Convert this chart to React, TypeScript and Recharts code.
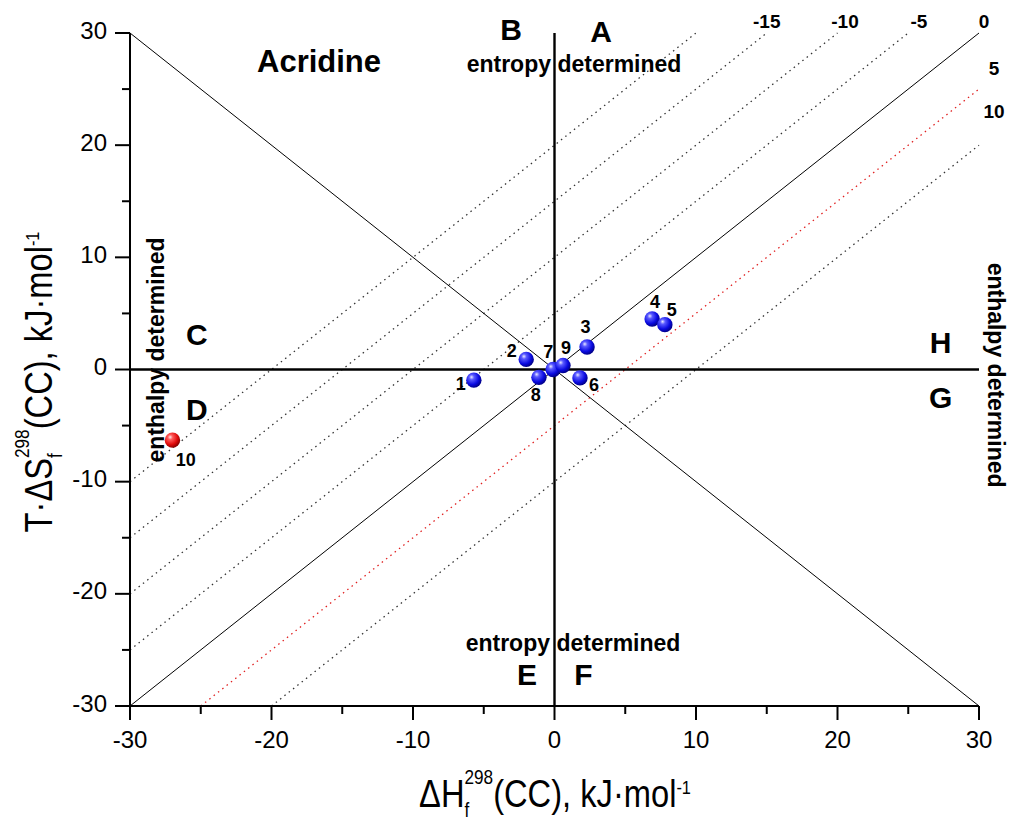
import React from 'react';
import { ScatterChart, Scatter, XAxis, YAxis, ReferenceLine, ReferenceDot } from 'recharts';

// measured compounds: ΔH (x) and T·ΔS (y), kJ/mol
const compoundIds = ['1', '2', '3', '4', '5', '6', '7', '8', '9', '10'];
const deltaH = [-5.7, -2.0, 2.3, 6.9, 7.8, 1.8, -0.1, -1.1, 0.6, -27.0];
const tDeltaS = [-0.95, 0.9, 2.0, 4.5, 4.0, -0.75, 0.0, -0.7, 0.35, -6.3];
const outlierIds = ['10'];

// iso-Gibbs guide lines y = x + c
const dottedOffsets = [20, 15, 10, 5, -10];
const redOffsets = [-5];
const solidOffsets = [0];

const axisTicks = [-30, -25, -20, -15, -10, -5, 0, 5, 10, 15, 20, 25, 30];

const FONT = '"Liberation Sans", Arial, sans-serif';

// text annotations (x, y in data units, baseline)
const annotations = [
    { text: 'Acridine', x: -16.64, y: 26.55, kind: 'title' },
    { text: 'B', x: -3.07, y: 29.38, kind: 'letter' },
    { text: 'A', x: 3.29, y: 29.2, kind: 'letter' },
    { text: 'entropy determined', x: 1.38, y: 26.52, kind: 'note' },
    { text: 'entropy determined', x: 1.31, y: -25.1, kind: 'note' },
    { text: 'E', x: -1.94, y: -28.13, kind: 'letter' },
    { text: 'F', x: 2.05, y: -28.13, kind: 'letter' },
    { text: 'C', x: -25.27, y: 2.19, kind: 'letter' },
    { text: 'D', x: -25.27, y: -4.5, kind: 'letter' },
    { text: 'H', x: 27.29, y: 1.47, kind: 'letter' },
    { text: 'G', x: 27.3, y: -3.43, kind: 'letter' },
    { text: 'enthalpy determined', x: -28.16, y: 1.74, kind: 'noteUp' },
    { text: 'enthalpy determined', x: 31.2, y: -0.5, kind: 'noteDown' },
    { text: '-15', x: 15.0, y: 30.42, kind: 'iso' },
    { text: '-10', x: 20.53, y: 30.42, kind: 'iso' },
    { text: '-5', x: 25.76, y: 30.42, kind: 'iso' },
    { text: '0', x: 30.35, y: 30.42, kind: 'iso' },
    { text: '5', x: 31.06, y: 26.26, kind: 'iso' },
    { text: '10', x: 31.06, y: 22.39, kind: 'iso' },
    { text: '1', x: -6.63, y: -1.81, kind: 'point' },
    { text: '2', x: -3.02, y: 1.1, kind: 'point' },
    { text: '3', x: 2.2, y: 3.24, kind: 'point' },
    { text: '4', x: 7.1, y: 5.47, kind: 'point' },
    { text: '5', x: 8.28, y: 4.79, kind: 'point' },
    { text: '6', x: 2.79, y: -1.96, kind: 'point' },
    { text: '7', x: -0.44, y: 1.01, kind: 'point' },
    { text: '8', x: -1.33, y: -2.85, kind: 'point' },
    { text: '9', x: 0.81, y: 1.37, kind: 'point' },
    { text: '10', x: -26.06, y: -8.58, kind: 'point' },
];

const annStyle: Record<string, any> = {
    title: { fontSize: 31 },
    letter: { fontSize: 30 },
    note: { fontSize: 23 },
    noteUp: { fontSize: 23, rotate: -90 },
    noteDown: { fontSize: 23, rotate: 90 },
    iso: { fontSize: 19 },
    point: { fontSize: 18 },
};

const points = compoundIds.map((id, i) => ({ id, x: deltaH[i], y: tDeltaS[i] }));
const bluePoints = points.filter(p => !outlierIds.includes(p.id));
const redPoints = points.filter(p => outlierIds.includes(p.id));

// clip y = x + c to the [-30, 30] box
const segmentFor = (c: number) => [
    { x: Math.max(-30, -30 - c), y: Math.max(-30, -30 - c) + c },
    { x: Math.min(30, 30 - c), y: Math.min(30, 30 - c) + c },
];

const XTick = ({ x, y, payload }: any) => {
    const major = payload.value % 10 === 0;
    return (
        <g>
            <line x1={x} x2={x} y1={y} y2={y + (major ? 14 : 8)} stroke="#000" strokeWidth={2} />
            {major && (
                <text x={x} y={y + 42} textAnchor="middle" fontSize={24} fontFamily={FONT} fill="#000">{payload.value}</text>
            )}
        </g>
    );
};

const YTick = ({ x, y, payload }: any) => {
    const major = payload.value % 10 === 0;
    return (
        <g>
            <line x1={x} x2={x - (major ? 15 : 8)} y1={y} y2={y} stroke="#000" strokeWidth={2} />
            {major && (
                <text x={x - 23} y={y + 5.5} textAnchor="end" fontSize={24} fontFamily={FONT} fill="#000">{payload.value}</text>
            )}
        </g>
    );
};

const AxisTitle = ({ cx, cy, rotate, main }: { cx: number; cy: number; rotate: number; main: string }) => (
    <text
        transform={`translate(${cx},${cy}) rotate(${rotate}) scale(0.86,1)`}
        textAnchor="middle"
        fontFamily={FONT}
        fontSize={38}
        fill="#000"
    >
        <tspan>{main}</tspan>
        <tspan fontSize={20} dy={10}>f</tspan>
        <tspan fontSize={20} dx={-5.6} dy={-32.7}>298</tspan>
        <tspan dy={22.7}>(CC), kJ·mol</tspan>
        <tspan fontSize={19} dy={-13}>-1</tspan>
    </text>
);

const sphere = (gid: string) => (props: any) => (
    <circle cx={props.cx} cy={props.cy} r={7.7} fill={`url(#${gid})`} />
);

export default function App() {
    return (
        <div style={{ position: 'absolute', left: 0, top: 0, width: 1010, height: 820, background: '#fff' }}>
            <ScatterChart width={1010} height={820} margin={{ top: 33, right: 31, bottom: 54, left: 20 }}>
                <defs>
                    <radialGradient id="blueBall" cx="38%" cy="35%" r="65%" fx="35%" fy="30%">
                        <stop offset="0%" stopColor="#e8e8ff" />
                        <stop offset="25%" stopColor="#5a5aff" />
                        <stop offset="70%" stopColor="#0a0ae0" />
                        <stop offset="100%" stopColor="#00008a" />
                    </radialGradient>
                    <radialGradient id="redBall" cx="38%" cy="35%" r="65%" fx="35%" fy="30%">
                        <stop offset="0%" stopColor="#ffe8e8" />
                        <stop offset="25%" stopColor="#ff5a5a" />
                        <stop offset="70%" stopColor="#e00a0a" />
                        <stop offset="100%" stopColor="#8a0000" />
                    </radialGradient>
                </defs>
                <XAxis
                    type="number"
                    dataKey="x"
                    domain={[-30, 30]}
                    ticks={axisTicks}
                    interval={0}
                    height={60}
                    tickSize={0}
                    tickMargin={0}
                    tick={<XTick />}
                    axisLine={{ stroke: '#000', strokeWidth: 2 }}
                    allowDataOverflow
                />
                <YAxis
                    type="number"
                    dataKey="y"
                    domain={[-30, 30]}
                    ticks={axisTicks}
                    interval={0}
                    width={110}
                    tickSize={0}
                    tickMargin={0}
                    tick={<YTick />}
                    axisLine={{ stroke: '#000', strokeWidth: 2 }}
                    allowDataOverflow
                />

                {dottedOffsets.map(c => (
                    <ReferenceLine key={`d${c}`} segment={segmentFor(c)} stroke="#333" strokeWidth={1.3} strokeDasharray="1.5 4" />
                ))}
                {redOffsets.map(c => (
                    <ReferenceLine key={`r${c}`} segment={segmentFor(c)} stroke="#e02020" strokeWidth={1.3} strokeDasharray="1.5 4" />
                ))}
                {solidOffsets.map(c => (
                    <ReferenceLine key={`s${c}`} segment={segmentFor(c)} stroke="#000" strokeWidth={1} />
                ))}
                <ReferenceLine segment={[{ x: -30, y: 30 }, { x: 30, y: -30 }]} stroke="#000" strokeWidth={1} />
                <ReferenceLine segment={[{ x: -30, y: 0 }, { x: 30, y: 0 }]} stroke="#000" strokeWidth={2.4} />
                <ReferenceLine segment={[{ x: 0, y: -30 }, { x: 0, y: 30 }]} stroke="#000" strokeWidth={2.4} />

                <Scatter data={bluePoints} shape={sphere('blueBall')} isAnimationActive={false} />
                <Scatter data={redPoints} shape={sphere('redBall')} isAnimationActive={false} />

                {annotations.map((a, i) => {
                    const st = annStyle[a.kind];
                    return (
                        <ReferenceDot
                            key={`a${i}`}
                            x={a.x}
                            y={a.y}
                            r={0}
                            ifOverflow="visible"
                            shape={(p: any) => (
                                <text
                                    x={p.cx}
                                    y={p.cy}
                                    textAnchor="middle"
                                    dominantBaseline={st.rotate ? 'central' : 'auto'}
                                    transform={st.rotate ? `rotate(${st.rotate},${p.cx},${p.cy})` : undefined}
                                    fontFamily={FONT}
                                    fontWeight="bold"
                                    fontSize={st.fontSize}
                                    fill="#000"
                                >
                                    {a.text}
                                </text>
                            )}
                        />
                    );
                })}

                <AxisTitle cx={555} cy={807} rotate={0} main="ΔH" />
                <AxisTitle cx={52} cy={382} rotate={-90} main="T·ΔS" />
            </ScatterChart>
        </div>
    );
}
